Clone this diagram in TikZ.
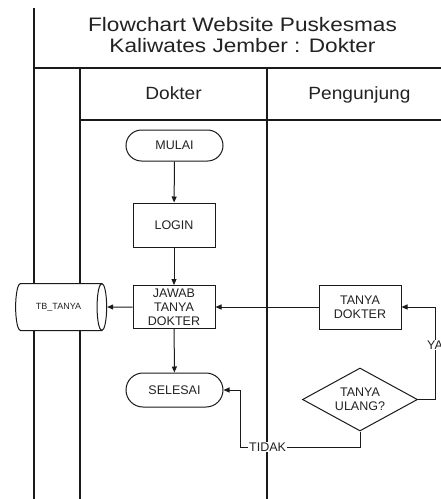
\documentclass[tikz,border=0pt]{standalone}
\usepackage{fontspec}
\setmainfont{Liberation Sans}
\newfontfamily\titlefont[FakeStretch=1.16]{Liberation Sans}
\newfontfamily\headfont[FakeStretch=1.08]{Liberation Sans}
\usetikzlibrary{arrows.meta,shapes.geometric,shapes.misc}
\definecolor{ink}{HTML}{1A1A1A}
\definecolor{txt}{HTML}{222222}
\tikzset{
  lane/.style={draw=ink, line width=1.8pt},
  boxfont/.style={font=\fontsize{12.5}{13.8}\selectfont, text=txt},
  terminal/.style={rounded rectangle, draw=ink, line width=1pt, fill=white,
    minimum width=97pt, boxfont, inner sep=0pt},
  procbox/.style={rectangle, draw=ink, line width=1pt, fill=white,
    minimum width=82pt, minimum height=44pt, boxfont, align=center, inner sep=0pt},
  dbbox/.style={cylinder, draw=ink, line width=1pt, fill=white,
    shape border rotate=0, aspect=1.2, minimum height=91pt, minimum width=47pt,
    font=\fontsize{9}{10}\selectfont, text=txt, inner sep=0pt},
  decision/.style={diamond, draw=ink, line width=1pt, fill=white, aspect=1.8,
    minimum width=115pt, minimum height=63pt, boxfont, align=center, inner sep=0pt},
  flow/.style={draw=ink, line width=1pt, -{Triangle[length=6pt,width=5pt]}},
  edgelabel/.style={fill=white, inner sep=1pt, boxfont},
  headtext/.style={font=\headfont\fontsize{17.7}{19}\selectfont, text=txt,
    anchor=base, inner sep=0pt},
}
\begin{document}
\begin{tikzpicture}[x=1pt, y=-1pt]
\useasboundingbox[fill=white] (0,0) rectangle (441,499);

% swimlane frame
\draw[lane] (34,8) -- (34,499);
\draw[lane] (34,68) -- (441,68);
\draw[lane] (80,68) -- (80,499);
\draw[lane] (80,120) -- (441,120);
\draw[lane] (267,68) -- (267,499);

% title and lane headers
\node[font=\titlefont\fontsize{19.5}{21}\selectfont, text=txt, align=center,
      anchor=south, inner sep=0pt] (title) at (242.5,53)
  {Flowchart Website Puskesmas\\Kaliwates Jember : Dokter};
\node[headtext] (hdokter) at (173.5,99) {Dokter};
\node[headtext] (hpengunjung) at (359.5,99) {Pengunjung};

% flow nodes
\node[terminal, minimum height=31pt] (mulai) at (174.5,145.5) {MULAI};
\node[procbox] (login) at (174,225) {LOGIN};
\node[procbox, minimum height=43pt] (jawab) at (174,307) {JAWAB\\TANYA\\DOKTER};
\node[dbbox] (tb) at (58.5,307) {TB\_TANYA};
\node[procbox] (tanya) at (360,307) {TANYA\\DOKTER};
\node[terminal, minimum height=34pt] (selesai) at (174.5,390) {SELESAI};
\node[decision] (ulang) at (360,399.5) {TANYA\\ULANG?};

% routing points
\coordinate (yaside) at (435,0);
\coordinate (tidakturn) at (240,447);

% connectors
\draw[flow] (mulai) -- (login);
\draw[flow] (login) -- (jawab);
\draw[flow] (jawab) -- (selesai);
\draw[flow] (jawab) -- (tb);
\draw[flow] (tanya) -- (jawab);
\draw[flow] (ulang.east) -- (ulang.east -| yaside)
  -- node[edgelabel, pos=0.59] {YA} (tanya.east -| yaside) -- (tanya.east);
\draw[flow] (ulang.south) -- (ulang.south |- tidakturn)
  -- node[edgelabel, pos=0.77] {TIDAK} (tidakturn)
  -- (tidakturn |- selesai.east) -- (selesai.east);
\end{tikzpicture}
\end{document}
